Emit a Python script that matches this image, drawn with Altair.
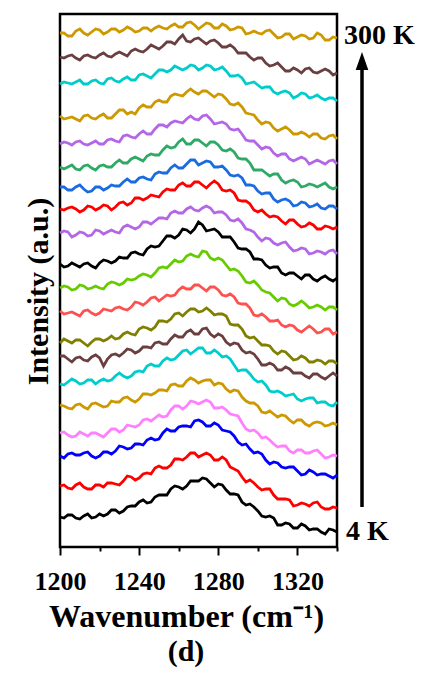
import altair as alt
import pandas as pd

# Wavenumber grids (cm^-1): main sampling points and the points in between
wn_main = [1200, 1204, 1208, 1212, 1216, 1220, 1224, 1228, 1232, 1236, 1240, 1244,
           1248, 1252, 1256, 1260, 1264, 1268, 1272, 1276, 1280, 1284, 1288, 1292,
           1296, 1300, 1304, 1308, 1312, 1316, 1320, 1324, 1328, 1332, 1336, 1340]
wn_mid = [1202, 1206, 1210, 1214, 1218, 1222, 1226, 1230, 1234, 1238, 1242, 1246,
          1250, 1254, 1258, 1262, 1266, 1270, 1274, 1278, 1282, 1286, 1290, 1294,
          1298, 1302, 1306, 1310, 1314, 1318, 1322, 1326, 1330, 1334, 1338]

# Series names (bottom = 4 K ... top = 300 K)
series_names = [f"S{i:02d}" for i in range(1, 21)]

# Vertical offsets used to stack the spectra
offsets = [28, 58, 90, 110, 140, 163, 188, 203, 233, 257,
           280, 312, 337, 357, 378, 402, 428, 463, 489, 514]

s01 = [2,4,1,3,1,5,5,9,8,13,17,16,22,24,30,32,33,38,41,36,35,29,25,17,15,8,2,1,-6,-5,-9,-7,-10,-13,-10,-13]
s02 = [3,1,4,2,0,4,6,5,8,12,11,16,21,21,24,30,32,36,34,34,29,29,20,12,9,2,0,-6,-10,-11,-16,-15,-14,-18,-20,-19]
s03 = [1,3,2,4,1,1,5,6,10,9,13,17,17,24,26,30,31,36,35,31,32,26,21,12,8,5,-3,-5,-10,-10,-14,-17,-15,-17,-19,-18]
s04 = [4,2,1,3,4,2,4,8,7,11,12,18,19,20,27,31,31,35,35,35,29,27,22,14,6,4,0,-7,-9,-14,-13,-16,-14,-17,-20,-19]
s05 = [2,-1,2,0,3,2,1,5,9,7,8,13,14,17,22,21,26,27,26,27,24,18,17,10,4,1,-6,-7,-8,-13,-13,-17,-16,-16,-18,-18]
s06 = [0,2,3,1,4,3,3,8,8,8,13,18,18,23,24,29,34,33,36,31,31,28,19,14,10,2,-1,-8,-9,-11,-15,-15,-14,-18,-21,-18]
s07 = [3,0,1,-1,2,1,0,5,6,9,8,12,16,15,20,22,27,25,30,25,25,17,16,9,7,0,-6,-6,-11,-10,-14,-17,-15,-18,-17,-17]
s08 = [1,3,4,1,2,5,5,5,10,10,15,16,17,23,25,31,32,35,33,33,30,28,19,15,6,3,-1,-7,-7,-12,-15,-14,-18,-17,-17,-20]
s09 = [3,1,0,3,1,1,4,6,5,7,11,12,17,16,18,24,25,29,26,27,24,18,17,10,6,-2,-3,-7,-11,-11,-16,-15,-15,-18,-15,-18]
s10 = [2,3,1,4,2,2,6,7,7,10,14,15,17,23,26,28,34,34,39,32,32,25,21,14,7,5,-2,-7,-8,-14,-14,-14,-17,-17,-17,-20]
s11 = [3,1,2,3,1,4,6,6,9,14,13,18,20,26,31,32,37,38,42,37,35,30,25,18,15,8,2,0,-6,-6,-9,-8,-12,-11,-12,-11]
s12 = [2,3,0,2,0,4,3,3,8,8,8,13,14,17,22,22,26,25,27,27,23,20,14,12,5,-2,-3,-8,-8,-12,-15,-14,-18,-17,-16,-19]
s13 = [1,2,1,0,3,2,4,3,8,7,12,12,14,18,20,25,24,28,25,26,26,19,17,9,6,-2,-4,-6,-11,-10,-14,-16,-15,-19,-17,-17]
s14 = [3,0,3,1,-1,3,2,4,8,8,12,11,16,17,22,22,26,30,27,28,23,20,14,12,5,-1,-3,-9,-10,-11,-15,-13,-16,-18,-16,-19]
s15 = [2,2,0,3,1,3,2,6,6,10,10,13,14,19,21,27,25,29,26,27,24,18,17,10,6,-1,-4,-5,-11,-12,-13,-17,-16,-16,-18,-18]
s16 = [1,2,3,1,2,1,5,4,9,8,11,11,16,20,22,23,26,26,29,26,22,21,15,11,4,0,-2,-8,-9,-14,-14,-14,-17,-17,-16,-19]
s17 = [3,1,0,3,1,3,1,5,9,7,11,12,17,17,23,24,27,27,28,25,25,20,14,12,5,-1,-3,-9,-10,-11,-15,-15,-15,-19,-17,-20]
s18 = [0,1,2,0,3,1,5,3,5,4,9,8,10,14,14,16,16,18,16,18,15,13,8,6,1,-1,-3,-8,-8,-9,-12,-10,-13,-14,-14,-17]
s19 = [1,2,0,2,1,3,2,4,4,7,7,9,11,12,16,19,17,19,17,17,15,11,10,5,1,0,-5,-7,-9,-13,-12,-11,-14,-13,-13,-15]
s20 = [0,-3,2,0,1,3,1,4,3,4,2,5,5,5,7,6,10,8,7,9,5,7,4,5,0,0,2,-1,-4,-1,-4,-3,-5,-2,-7,-5]

m01 = [1,4,0,5,2,3,9,6,12,13,19,17,24,24,33,30,38,38,40,32,34,25,24,14,12,3,3,-6,-4,-9,-5,-11,-10,-15,-11]
m02 = [4,0,6,0,4,2,6,4,13,9,15,15,23,21,30,29,36,32,36,29,32,22,18,7,6,-1,0,-10,-10,-17,-14,-17,-13,-20,-18]
m03 = [-1,4,2,5,-1,5,3,11,8,13,12,19,18,28,26,31,30,37,31,34,27,25,15,13,4,3,-7,-6,-11,-10,-18,-13,-18,-17,-21]
m04 = [5,0,5,1,4,0,8,5,12,10,17,16,22,21,31,28,36,33,37,29,30,23,21,8,7,-1,-3,-10,-9,-16,-13,-16,-13,-21,-18]
m05 = [1,-2,3,-2,4,0,6,5,10,5,13,12,17,16,23,21,29,24,27,22,23,15,16,6,4,-5,-4,-10,-9,-16,-13,-19,-15,-19,-16]
m06 = [-1,5,0,4,0,5,4,11,6,12,12,20,18,26,25,33,30,36,31,34,27,25,13,14,5,3,-7,-7,-12,-10,-17,-14,-19,-18,-22]
m07 = [3,-3,2,-2,4,-7,4,3,10,6,12,11,17,15,24,22,29,25,31,22,23,14,15,6,5,-6,-4,-11,-8,-14,-14,-19,-15,-20,-14]
m08 = [5,1,4,-2,5,3,8,6,12,9,17,14,23,22,30,28,35,32,36,29,30,20,19,8,7,-1,-2,-10,-8,-16,-12,-18,-16,-20,-17]
m09 = [0,2,-2,4,-1,5,3,7,4,12,9,16,13,19,19,27,25,29,23,27,19,20,11,10,-1,0,-7,-6,-13,-12,-18,-12,-19,-15,-20]
m10 = [4,0,5,1,4,1,8,5,11,11,16,13,22,22,30,29,36,33,38,30,30,20,19,8,9,0,-3,-11,-9,-16,-11,-18,-15,-20,-17]
m11 = [0,4,0,4,-1,7,4,10,9,15,12,21,21,31,29,38,34,45,36,38,30,30,19,18,8,7,-1,0,-8,-6,-12,-8,-14,-9,-14]
m12 = [4,-2,3,-1,5,1,5,2,10,6,13,11,17,16,24,22,28,24,29,22,23,15,16,6,3,-6,-4,-10,-7,-16,-13,-19,-16,-19,-15]
m13 = [0,3,-2,4,0,5,0,7,5,12,10,15,13,21,20,27,24,28,22,29,20,20,10,9,0,0,-7,-7,-14,-10,-17,-13,-19,-16,-19]
m14 = [3,0,5,-2,3,0,5,4,11,8,13,10,18,17,25,22,30,25,29,23,24,15,15,5,4,-4,-3,-12,-9,-16,-12,-17,-14,-19,-16]
m15 = [0,4,-1,4,-1,4,2,9,6,12,8,15,14,23,22,30,25,29,23,27,19,20,11,10,-1,-1,-7,-5,-14,-11,-18,-15,-18,-14,-20]
m16 = [3,0,4,0,4,1,6,3,10,7,14,11,20,18,24,22,29,25,30,21,23,16,16,5,4,-4,-3,-11,-9,-16,-12,-19,-15,-19,-15]
m17 = [0,2,-2,4,0,5,1,9,5,5,14,12,19,17,25,23,30,25,28,22,24,15,16,6,4,-5,-4,-12,-8,-15,-13,-18,-15,-20,-16]
m18 = [2,0,4,0,4,0,6,2,7,4,10,6,14,12,18,14,19,14,19,14,17,8,9,0,2,-4,-3,-10,-7,-14,-9,-14,-11,-16,-14]
m19 = [0,3,-2,3,0,5,1,6,2,9,6,13,9,16,14,23,16,20,14,18,11,13,5,5,-2,0,-8,-5,-13,-10,-15,-10,-15,-11,-17]
m20 = [0,-3,4,-2,4,-1,4,1,6,1,5,2,7,4,9,6,11,4,10,5,9,3,6,-1,2,-1,3,-5,-1,-6,-2,-6,0,-7,-4]

main_vals = [s01, s02, s03, s04, s05, s06, s07, s08, s09, s10,
             s11, s12, s13, s14, s15, s16, s17, s18, s19, s20]
mid_vals = [m01, m02, m03, m04, m05, m06, m07, m08, m09, m10,
            m11, m12, m13, m14, m15, m16, m17, m18, m19, m20]

colors = ["#000000", "#FF0000", "#0000FF", "#FF80FF", "#CC9900",
          "#00CCCC", "#6B3F3F", "#808000", "#FF5050", "#66CC00",
          "#000000", "#B366E6", "#FF0000", "#1A6BE0", "#2EAA66",
          "#B366E6", "#CC9900", "#00CCCC", "#6B3F3F", "#CC9900"]

x_ticks = [1200, 1220, 1240, 1260, 1280, 1300, 1320, 1340]

rows = []
for name, off, a, m in zip(series_names, offsets, main_vals, mid_vals):
    for w, v in zip(wn_main, a):
        rows.append({"wn": w, "h": off + v, "series": name})
    for w, v in zip(wn_mid, m):
        rows.append({"wn": w, "h": off + v, "series": name})
df = pd.DataFrame(rows).sort_values(["series", "wn"]).reset_index(drop=True)

FONT = "Liberation Serif"

lines = alt.Chart(df).mark_line(strokeWidth=2.8).encode(
    x=alt.X("wn:Q",
            scale=alt.Scale(domain=[1200, 1340], nice=False, zero=False),
            axis=alt.Axis(values=x_ticks, format="d",
                          labelExpr="datum.value % 40 === 0 ? datum.label : ''",
                          tickSize={"condition": {"test": "datum.value % 40 === 0", "value": 8}, "value": 4},
                          tickWidth=2, tickColor="black", domain=False, grid=False,
                          labelFont=FONT, labelFontSize=26, labelFontWeight="bold",
                          labelColor="black", labelPadding=13, labelFlush=False,
                          title="Wavenumber (cm\u207b\u00b9)",
                          titleFont=FONT, titleFontSize=32, titleFontWeight="bold",
                          titleColor="black", titlePadding=7,
                          titleX=126, titleAlign="center")),
    y=alt.Y("h:Q",
            scale=alt.Scale(domain=[0, 533], nice=False, zero=False),
            axis=alt.Axis(labels=False, ticks=False, domain=False, grid=False,
                          title="Intensity (a.u.)", titleFont=FONT, titleFontSize=30,
                          titleFontWeight="bold", titleColor="black", titlePadding=7,
                          titleY=277)),
    color=alt.Color("series:N", scale=alt.Scale(domain=series_names, range=colors), legend=None),
    order=alt.Order("wn:Q"),
)

one = pd.DataFrame({"k": [0]})

panel_label = alt.Chart(one).mark_text(text="(d)", font=FONT, fontSize=30, fontWeight="bold",
                                       align="center", baseline="alphabetic", color="black").encode(
    x=alt.value(126), y=alt.value(647))
top_label = alt.Chart(one).mark_text(text="300 K", font=FONT, fontSize=28, fontWeight="bold",
                                     align="left", baseline="alphabetic", color="black").encode(
    x=alt.value(284), y=alt.value(30))
bottom_label = alt.Chart(one).mark_text(text="4 K", font=FONT, fontSize=28, fontWeight="bold",
                                        align="left", baseline="alphabetic", color="black").encode(
    x=alt.value(286), y=alt.value(526))
shaft = alt.Chart(one).mark_rule(strokeWidth=3.5, color="black").encode(
    x=alt.value(302), y=alt.value(54), y2=alt.value(493))
head = alt.Chart(one).mark_point(shape="M-0.7,1 L0,-1 L0.7,1 Z", filled=True, size=324,
                                 color="black", opacity=1, strokeWidth=0).encode(
    x=alt.value(302), y=alt.value(47))

chart = alt.layer(lines, panel_label, top_label, bottom_label, shaft, head).properties(
    width=277, height=533,
    autosize=alt.AutoSizeParams(type="none"),
    padding={"left": 52, "top": 6, "right": 78, "bottom": 121},
).configure_view(stroke="black", strokeWidth=2.5)

chart.save("out.html", embed_options={"renderer": "svg", "actions": False})
